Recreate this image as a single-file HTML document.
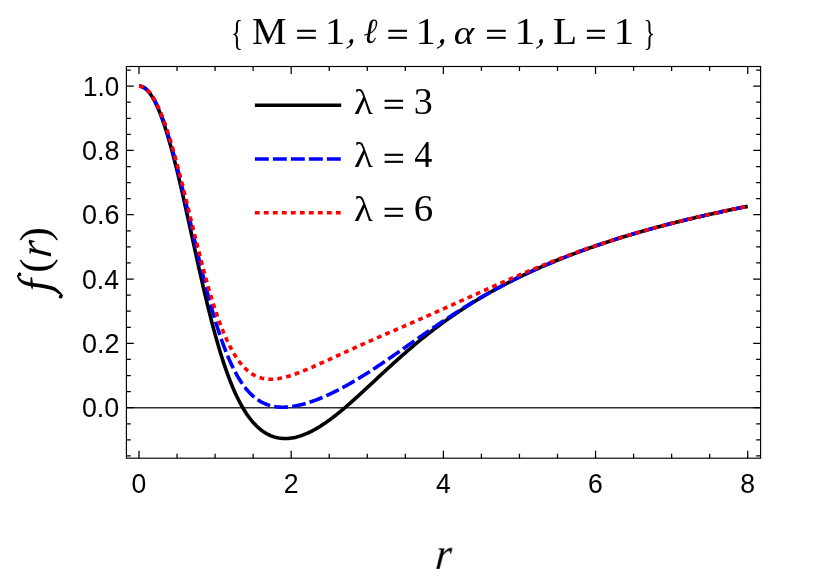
<!DOCTYPE html><html><head><meta charset="utf-8"><title>plot</title>
<style>html,body{margin:0;padding:0;background:#fff;}body{width:814px;height:585px;overflow:hidden;}svg{display:block;}.ss{font-family:"Liberation Sans",sans-serif;}.sr{font-family:"Liberation Serif",serif;}</style></head><body>
<svg width="814" height="585" viewBox="0 0 814 585" style="will-change:transform">
<defs><filter id="ga" filterUnits="userSpaceOnUse" x="0" y="0" width="814" height="585"><feOffset dx="0" dy="0"/></filter></defs>
<rect width="814" height="585" fill="#fff"/>
<line x1="126.40" y1="407.80" x2="760.60" y2="407.80" stroke="#2e2e2e" stroke-width="1.5"/>
<g fill="none" stroke-width="3.60" stroke-linejoin="round">
<path d="M139.00,86.10 L140.22,86.19 L141.43,86.47 L142.65,86.92 L143.87,87.56 L145.09,88.39 L146.30,89.39 L147.52,90.58 L148.74,91.95 L149.96,93.50 L151.17,95.23 L152.39,97.14 L153.61,99.23 L154.83,101.50 L156.04,103.94 L157.26,106.55 L158.48,109.34 L159.70,112.30 L160.91,115.42 L162.13,118.71 L163.35,122.15 L164.57,125.76 L165.78,129.51 L167.00,133.42 L168.22,137.47 L169.44,141.66 L170.65,145.98 L171.87,150.43 L173.09,155.01 L174.31,159.70 L175.52,164.50 L176.74,169.40 L177.96,174.40 L179.18,179.49 L180.39,184.66 L181.61,189.91 L182.83,195.22 L184.05,200.60 L185.26,206.02 L186.48,211.49 L187.70,216.99 L188.92,222.52 L190.13,228.06 L191.35,233.62 L192.57,239.19 L193.78,244.74 L195.00,250.29 L196.22,255.81 L197.44,261.31 L198.65,266.78 L199.87,272.20 L201.09,277.58 L202.31,282.91 L203.52,288.17 L204.74,293.37 L205.96,298.50 L207.18,303.56 L208.39,308.54 L209.61,313.43 L210.83,318.24 L212.05,322.95 L213.26,327.57 L214.48,332.10 L215.70,336.52 L216.92,340.84 L218.13,345.06 L219.35,349.17 L220.57,353.18 L221.79,357.08 L223.00,360.88 L224.22,364.56 L225.44,368.14 L226.66,371.60 L227.87,374.96 L229.09,378.22 L230.31,381.36 L231.53,384.40 L232.74,387.34 L233.96,390.17 L235.18,392.90 L236.40,395.53 L237.61,398.06 L238.83,400.50 L240.05,402.83 L241.26,405.07 L242.48,407.22 L243.70,409.28 L244.92,411.26 L246.13,413.14 L247.35,414.94 L248.57,416.66 L249.79,418.29 L251.00,419.85 L252.22,421.33 L253.44,422.74 L254.66,424.07 L255.87,425.33 L257.09,426.52 L258.31,427.65 L259.53,428.71 L260.74,429.70 L261.96,430.63 L263.18,431.51 L264.40,432.32 L265.61,433.07 L266.83,433.77 L268.05,434.42 L269.27,435.01 L270.48,435.55 L271.70,436.05 L272.92,436.49 L274.14,436.88 L275.35,437.23 L276.57,437.54 L277.79,437.80 L279.01,438.02 L280.22,438.19 L281.44,438.33 L282.66,438.43 L283.88,438.48 L285.09,438.50 L286.31,438.49 L287.53,438.44 L288.75,438.35 L289.96,438.23 L291.18,438.07 L292.40,437.89 L293.61,437.67 L294.83,437.42 L296.05,437.14 L297.27,436.83 L298.48,436.49 L299.70,436.13 L300.92,435.73 L302.14,435.31 L303.35,434.86 L304.57,434.39 L305.79,433.89 L307.01,433.37 L308.22,432.82 L309.44,432.26 L310.66,431.66 L311.88,431.05 L313.09,430.41 L314.31,429.75 L315.53,429.07 L316.75,428.37 L317.96,427.66 L319.18,426.92 L320.40,426.16 L321.62,425.39 L322.83,424.59 L324.05,423.78 L325.27,422.96 L326.49,422.11 L327.70,421.25 L328.92,420.38 L330.14,419.49 L331.36,418.59 L332.57,417.67 L333.79,416.74 L335.01,415.79 L336.23,414.84 L337.44,413.87 L338.66,412.89 L339.88,411.90 L341.10,410.90 L342.31,409.88 L343.53,408.86 L344.75,407.83 L345.96,406.79 L347.18,405.74 L348.40,404.68 L349.62,403.62 L350.83,402.55 L352.05,401.47 L353.27,400.39 L354.49,399.29 L355.70,398.20 L356.92,397.10 L358.14,395.99 L359.36,394.88 L360.57,393.76 L361.79,392.65 L363.01,391.52 L364.23,390.40 L365.44,389.27 L366.66,388.14 L367.88,387.01 L369.10,385.88 L370.31,384.74 L371.53,383.61 L372.75,382.47 L373.97,381.34 L375.18,380.20 L376.40,379.07 L377.62,377.93 L378.84,376.80 L380.05,375.66 L381.27,374.53 L382.49,373.40 L383.71,372.27 L384.92,371.15 L386.14,370.02 L387.36,368.90 L388.58,367.78 L389.79,366.67 L391.01,365.56 L392.23,364.45 L393.44,363.34 L394.66,362.24 L395.88,361.14 L397.10,360.05 L398.31,358.96 L399.53,357.87 L400.75,356.79 L401.97,355.72 L403.18,354.65 L404.40,353.58 L405.62,352.52 L406.84,351.46 L408.05,350.41 L409.27,349.36 L410.49,348.32 L411.71,347.29 L412.92,346.26 L414.14,345.23 L415.36,344.21 L416.58,343.20 L417.79,342.19 L419.01,341.19 L420.23,340.19 L421.45,339.20 L422.66,338.21 L423.88,337.23 L425.10,336.26 L426.32,335.29 L427.53,334.33 L428.75,333.37 L429.97,332.42 L431.19,331.48 L432.40,330.54 L433.62,329.61 L434.84,328.68 L436.06,327.76 L437.27,326.85 L438.49,325.94 L439.71,325.04 L440.93,324.14 L442.14,323.25 L443.36,322.36 L444.58,321.48 L445.79,320.61 L447.01,319.74 L448.23,318.88 L449.45,318.02 L450.66,317.17 L451.88,316.32 L453.10,315.48 L454.32,314.65 L455.53,313.82 L456.75,312.99 L457.97,312.18 L459.19,311.36 L460.40,310.56 L461.62,309.75 L462.84,308.96 L464.06,308.16 L465.27,307.38 L466.49,306.60 L467.71,305.82 L468.93,305.05 L470.14,304.28 L471.36,303.52 L472.58,302.76 L473.80,302.01 L475.01,301.27 L476.23,300.53 L477.45,299.79 L478.67,299.06 L479.88,298.33 L481.10,297.61 L482.32,296.89 L483.54,296.18 L484.75,295.47 L485.97,294.76 L487.19,294.06 L488.41,293.37 L489.62,292.68 L490.84,291.99 L492.06,291.31 L493.28,290.63 L494.49,289.96 L495.71,289.29 L496.93,288.62 L498.14,287.96 L499.36,287.31 L500.58,286.65 L501.80,286.00 L503.01,285.36 L504.23,284.72 L505.45,284.08 L506.67,283.45 L507.88,282.82 L509.10,282.20 L510.32,281.57 L511.54,280.96 L512.75,280.34 L513.97,279.73 L515.19,279.13 L516.41,278.52 L517.62,277.93 L518.84,277.33 L520.06,276.74 L521.28,276.15 L522.49,275.57 L523.71,274.98 L524.93,274.41 L526.15,273.83 L527.36,273.26 L528.58,272.69 L529.80,272.13 L531.02,271.57 L532.23,271.01 L533.45,270.46 L534.67,269.90 L535.89,269.36 L537.10,268.81 L538.32,268.27 L539.54,267.73 L540.76,267.19 L541.97,266.66 L543.19,266.13 L544.41,265.61 L545.62,265.08 L546.84,264.56 L548.06,264.04 L549.28,263.53 L550.49,263.02 L551.71,262.51 L552.93,262.00 L554.15,261.50 L555.36,261.00 L556.58,260.50 L557.80,260.01 L559.02,259.51 L560.23,259.02 L561.45,258.54 L562.67,258.05 L563.89,257.57 L565.10,257.09 L566.32,256.62 L567.54,256.14 L568.76,255.67 L569.97,255.20 L571.19,254.74 L572.41,254.27 L573.63,253.81 L574.84,253.35 L576.06,252.90 L577.28,252.44 L578.50,251.99 L579.71,251.54 L580.93,251.10 L582.15,250.65 L583.37,250.21 L584.58,249.77 L585.80,249.33 L587.02,248.90 L588.24,248.47 L589.45,248.04 L590.67,247.61 L591.89,247.18 L593.11,246.76 L594.32,246.34 L595.54,245.92 L596.76,245.50 L597.97,245.08 L599.19,244.67 L600.41,244.26 L601.63,243.85 L602.84,243.44 L604.06,243.04 L605.28,242.64 L606.50,242.24 L607.71,241.84 L608.93,241.44 L610.15,241.05 L611.37,240.65 L612.58,240.26 L613.80,239.87 L615.02,239.49 L616.24,239.10 L617.45,238.72 L618.67,238.34 L619.89,237.96 L621.11,237.58 L622.32,237.21 L623.54,236.83 L624.76,236.46 L625.98,236.09 L627.19,235.72 L628.41,235.35 L629.63,234.99 L630.85,234.63 L632.06,234.26 L633.28,233.90 L634.50,233.55 L635.72,233.19 L636.93,232.84 L638.15,232.48 L639.37,232.13 L640.59,231.78 L641.80,231.43 L643.02,231.09 L644.24,230.74 L645.46,230.40 L646.67,230.06 L647.89,229.72 L649.11,229.38 L650.32,229.04 L651.54,228.71 L652.76,228.38 L653.98,228.04 L655.19,227.71 L656.41,227.38 L657.63,227.06 L658.85,226.73 L660.06,226.41 L661.28,226.08 L662.50,225.76 L663.72,225.44 L664.93,225.12 L666.15,224.81 L667.37,224.49 L668.59,224.18 L669.80,223.86 L671.02,223.55 L672.24,223.24 L673.46,222.93 L674.67,222.62 L675.89,222.32 L677.11,222.01 L678.33,221.71 L679.54,221.41 L680.76,221.11 L681.98,220.81 L683.20,220.51 L684.41,220.21 L685.63,219.92 L686.85,219.62 L688.07,219.33 L689.28,219.04 L690.50,218.75 L691.72,218.46 L692.94,218.17 L694.15,217.89 L695.37,217.60 L696.59,217.32 L697.80,217.03 L699.02,216.75 L700.24,216.47 L701.46,216.19 L702.67,215.91 L703.89,215.64 L705.11,215.36 L706.33,215.08 L707.54,214.81 L708.76,214.54 L709.98,214.27 L711.20,214.00 L712.41,213.73 L713.63,213.46 L714.85,213.19 L716.07,212.93 L717.28,212.66 L718.50,212.40 L719.72,212.14 L720.94,211.88 L722.15,211.62 L723.37,211.36 L724.59,211.10 L725.81,210.84 L727.02,210.59 L728.24,210.33 L729.46,210.08 L730.68,209.82 L731.89,209.57 L733.11,209.32 L734.33,209.07 L735.55,208.82 L736.76,208.57 L737.98,208.33 L739.20,208.08 L740.42,207.84 L741.63,207.59 L742.85,207.35 L744.07,207.11 L745.29,206.87 L746.50,206.63 L747.72,206.39" stroke="#000"/>
<path d="M139.00,86.10 L140.22,86.19 L141.43,86.45 L142.65,86.89 L143.87,87.50 L145.09,88.29 L146.30,89.25 L147.52,90.38 L148.74,91.69 L149.96,93.18 L151.17,94.83 L152.39,96.66 L153.61,98.65 L154.83,100.82 L156.04,103.15 L157.26,105.65 L158.48,108.32 L159.70,111.14 L160.91,114.13 L162.13,117.27 L163.35,120.56 L164.57,124.00 L165.78,127.58 L167.00,131.31 L168.22,135.17 L169.44,139.17 L170.65,143.29 L171.87,147.53 L173.09,151.89 L174.31,156.36 L175.52,160.93 L176.74,165.60 L177.96,170.35 L179.18,175.19 L180.39,180.10 L181.61,185.08 L182.83,190.12 L184.05,195.21 L185.26,200.35 L186.48,205.53 L187.70,210.73 L188.92,215.95 L190.13,221.19 L191.35,226.43 L192.57,231.67 L193.78,236.90 L195.00,242.11 L196.22,247.29 L197.44,252.45 L198.65,257.56 L199.87,262.63 L201.09,267.65 L202.31,272.61 L203.52,277.51 L204.74,282.34 L205.96,287.09 L207.18,291.77 L208.39,296.36 L209.61,300.87 L210.83,305.29 L212.05,309.61 L213.26,313.83 L214.48,317.96 L215.70,321.98 L216.92,325.91 L218.13,329.72 L219.35,333.43 L220.57,337.04 L221.79,340.53 L223.00,343.92 L224.22,347.20 L225.44,350.37 L226.66,353.43 L227.87,356.39 L229.09,359.24 L230.31,361.98 L231.53,364.62 L232.74,367.16 L233.96,369.60 L235.18,371.93 L236.40,374.17 L237.61,376.32 L238.83,378.36 L240.05,380.32 L241.26,382.19 L242.48,383.97 L243.70,385.66 L244.92,387.27 L246.13,388.80 L247.35,390.25 L248.57,391.62 L249.79,392.92 L251.00,394.14 L252.22,395.30 L253.44,396.39 L254.66,397.41 L255.87,398.37 L257.09,399.26 L258.31,400.10 L259.53,400.88 L260.74,401.61 L261.96,402.28 L263.18,402.90 L264.40,403.47 L265.61,404.00 L266.83,404.47 L268.05,404.91 L269.27,405.30 L270.48,405.65 L271.70,405.96 L272.92,406.23 L274.14,406.47 L275.35,406.67 L276.57,406.84 L277.79,406.97 L279.01,407.08 L280.22,407.15 L281.44,407.20 L282.66,407.22 L283.88,407.21 L285.09,407.17 L286.31,407.11 L287.53,407.03 L288.75,406.93 L289.96,406.80 L291.18,406.65 L292.40,406.48 L293.61,406.29 L294.83,406.08 L296.05,405.86 L297.27,405.61 L298.48,405.35 L299.70,405.07 L300.92,404.78 L302.14,404.47 L303.35,404.15 L304.57,403.81 L305.79,403.46 L307.01,403.09 L308.22,402.71 L309.44,402.32 L310.66,401.91 L311.88,401.49 L313.09,401.07 L314.31,400.62 L315.53,400.17 L316.75,399.71 L317.96,399.23 L319.18,398.75 L320.40,398.25 L321.62,397.75 L322.83,397.24 L324.05,396.71 L325.27,396.18 L326.49,395.63 L327.70,395.08 L328.92,394.52 L330.14,393.95 L331.36,393.37 L332.57,392.79 L333.79,392.19 L335.01,391.59 L336.23,390.98 L337.44,390.36 L338.66,389.73 L339.88,389.10 L341.10,388.45 L342.31,387.80 L343.53,387.15 L344.75,386.48 L345.96,385.81 L347.18,385.14 L348.40,384.45 L349.62,383.76 L350.83,383.07 L352.05,382.36 L353.27,381.65 L354.49,380.94 L355.70,380.22 L356.92,379.49 L358.14,378.75 L359.36,378.02 L360.57,377.27 L361.79,376.52 L363.01,375.77 L364.23,375.01 L365.44,374.24 L366.66,373.47 L367.88,372.70 L369.10,371.92 L370.31,371.13 L371.53,370.34 L372.75,369.55 L373.97,368.75 L375.18,367.95 L376.40,367.15 L377.62,366.34 L378.84,365.53 L380.05,364.71 L381.27,363.90 L382.49,363.07 L383.71,362.25 L384.92,361.42 L386.14,360.59 L387.36,359.76 L388.58,358.92 L389.79,358.09 L391.01,357.25 L392.23,356.40 L393.44,355.56 L394.66,354.72 L395.88,353.87 L397.10,353.02 L398.31,352.17 L399.53,351.32 L400.75,350.47 L401.97,349.61 L403.18,348.76 L404.40,347.91 L405.62,347.05 L406.84,346.20 L408.05,345.34 L409.27,344.48 L410.49,343.63 L411.71,342.77 L412.92,341.92 L414.14,341.06 L415.36,340.21 L416.58,339.36 L417.79,338.50 L419.01,337.65 L420.23,336.80 L421.45,335.95 L422.66,335.10 L423.88,334.25 L425.10,333.41 L426.32,332.56 L427.53,331.72 L428.75,330.88 L429.97,330.04 L431.19,329.20 L432.40,328.37 L433.62,327.53 L434.84,326.70 L436.06,325.87 L437.27,325.05 L438.49,324.22 L439.71,323.40 L440.93,322.58 L442.14,321.77 L443.36,320.95 L444.58,320.14 L445.79,319.34 L447.01,318.53 L448.23,317.73 L449.45,316.93 L450.66,316.14 L451.88,315.34 L453.10,314.55 L454.32,313.77 L455.53,312.98 L456.75,312.21 L457.97,311.43 L459.19,310.66 L460.40,309.89 L461.62,309.12 L462.84,308.36 L464.06,307.60 L465.27,306.85 L466.49,306.09 L467.71,305.35 L468.93,304.60 L470.14,303.86 L471.36,303.13 L472.58,302.39 L473.80,301.66 L475.01,300.94 L476.23,300.22 L477.45,299.50 L478.67,298.78 L479.88,298.07 L481.10,297.37 L482.32,296.66 L483.54,295.96 L484.75,295.27 L485.97,294.58 L487.19,293.89 L488.41,293.21 L489.62,292.52 L490.84,291.85 L492.06,291.18 L493.28,290.51 L494.49,289.84 L495.71,289.18 L496.93,288.52 L498.14,287.87 L499.36,287.22 L500.58,286.57 L501.80,285.93 L503.01,285.29 L504.23,284.65 L505.45,284.02 L506.67,283.39 L507.88,282.77 L509.10,282.15 L510.32,281.53 L511.54,280.91 L512.75,280.30 L513.97,279.70 L515.19,279.09 L516.41,278.49 L517.62,277.90 L518.84,277.30 L520.06,276.71 L521.28,276.13 L522.49,275.54 L523.71,274.96 L524.93,274.39 L526.15,273.82 L527.36,273.25 L528.58,272.68 L529.80,272.12 L531.02,271.56 L532.23,271.00 L533.45,270.44 L534.67,269.89 L535.89,269.35 L537.10,268.80 L538.32,268.26 L539.54,267.72 L540.76,267.19 L541.97,266.66 L543.19,266.13 L544.41,265.60 L545.62,265.08 L546.84,264.56 L548.06,264.04 L549.28,263.53 L550.49,263.01 L551.71,262.51 L552.93,262.00 L554.15,261.50 L555.36,261.00 L556.58,260.50 L557.80,260.00 L559.02,259.51 L560.23,259.02 L561.45,258.54 L562.67,258.05 L563.89,257.57 L565.10,257.09 L566.32,256.62 L567.54,256.14 L568.76,255.67 L569.97,255.20 L571.19,254.74 L572.41,254.27 L573.63,253.81 L574.84,253.35 L576.06,252.90 L577.28,252.44 L578.50,251.99 L579.71,251.54 L580.93,251.10 L582.15,250.65 L583.37,250.21 L584.58,249.77 L585.80,249.33 L587.02,248.90 L588.24,248.47 L589.45,248.04 L590.67,247.61 L591.89,247.18 L593.11,246.76 L594.32,246.34 L595.54,245.92 L596.76,245.50 L597.97,245.08 L599.19,244.67 L600.41,244.26 L601.63,243.85 L602.84,243.44 L604.06,243.04 L605.28,242.64 L606.50,242.24 L607.71,241.84 L608.93,241.44 L610.15,241.05 L611.37,240.65 L612.58,240.26 L613.80,239.87 L615.02,239.49 L616.24,239.10 L617.45,238.72 L618.67,238.34 L619.89,237.96 L621.11,237.58 L622.32,237.21 L623.54,236.83 L624.76,236.46 L625.98,236.09 L627.19,235.72 L628.41,235.35 L629.63,234.99 L630.85,234.63 L632.06,234.26 L633.28,233.90 L634.50,233.55 L635.72,233.19 L636.93,232.84 L638.15,232.48 L639.37,232.13 L640.59,231.78 L641.80,231.43 L643.02,231.09 L644.24,230.74 L645.46,230.40 L646.67,230.06 L647.89,229.72 L649.11,229.38 L650.32,229.04 L651.54,228.71 L652.76,228.38 L653.98,228.04 L655.19,227.71 L656.41,227.38 L657.63,227.06 L658.85,226.73 L660.06,226.41 L661.28,226.08 L662.50,225.76 L663.72,225.44 L664.93,225.12 L666.15,224.81 L667.37,224.49 L668.59,224.18 L669.80,223.86 L671.02,223.55 L672.24,223.24 L673.46,222.93 L674.67,222.62 L675.89,222.32 L677.11,222.01 L678.33,221.71 L679.54,221.41 L680.76,221.11 L681.98,220.81 L683.20,220.51 L684.41,220.21 L685.63,219.92 L686.85,219.62 L688.07,219.33 L689.28,219.04 L690.50,218.75 L691.72,218.46 L692.94,218.17 L694.15,217.89 L695.37,217.60 L696.59,217.32 L697.80,217.03 L699.02,216.75 L700.24,216.47 L701.46,216.19 L702.67,215.91 L703.89,215.64 L705.11,215.36 L706.33,215.08 L707.54,214.81 L708.76,214.54 L709.98,214.27 L711.20,214.00 L712.41,213.73 L713.63,213.46 L714.85,213.19 L716.07,212.93 L717.28,212.66 L718.50,212.40 L719.72,212.14 L720.94,211.88 L722.15,211.62 L723.37,211.36 L724.59,211.10 L725.81,210.84 L727.02,210.59 L728.24,210.33 L729.46,210.08 L730.68,209.82 L731.89,209.57 L733.11,209.32 L734.33,209.07 L735.55,208.82 L736.76,208.57 L737.98,208.33 L739.20,208.08 L740.42,207.84 L741.63,207.59 L742.85,207.35 L744.07,207.11 L745.29,206.87 L746.50,206.63 L747.72,206.39" stroke="#0000ff" stroke-dasharray="13.9 4.1"/>
<path d="M139.00,86.10 L140.22,86.18 L141.43,86.44 L142.65,86.86 L143.87,87.45 L145.09,88.21 L146.30,89.14 L147.52,90.24 L148.74,91.51 L149.96,92.94 L151.17,94.54 L152.39,96.31 L153.61,98.24 L154.83,100.34 L156.04,102.59 L157.26,105.01 L158.48,107.59 L159.70,110.32 L160.91,113.20 L162.13,116.23 L163.35,119.42 L164.57,122.74 L165.78,126.20 L167.00,129.80 L168.22,133.53 L169.44,137.39 L170.65,141.37 L171.87,145.46 L173.09,149.66 L174.31,153.97 L175.52,158.37 L176.74,162.86 L177.96,167.44 L179.18,172.10 L180.39,176.82 L181.61,181.61 L182.83,186.45 L184.05,191.34 L185.26,196.27 L186.48,201.23 L187.70,206.21 L188.92,211.21 L190.13,216.21 L191.35,221.22 L192.57,226.22 L193.78,231.20 L195.00,236.17 L196.22,241.10 L197.44,245.99 L198.65,250.85 L199.87,255.65 L201.09,260.40 L202.31,265.08 L203.52,269.70 L204.74,274.24 L205.96,278.71 L207.18,283.09 L208.39,287.39 L209.61,291.59 L210.83,295.70 L212.05,299.72 L213.26,303.63 L214.48,307.44 L215.70,311.15 L216.92,314.75 L218.13,318.24 L219.35,321.62 L220.57,324.90 L221.79,328.06 L223.00,331.11 L224.22,334.05 L225.44,336.88 L226.66,339.60 L227.87,342.21 L229.09,344.71 L230.31,347.11 L231.53,349.40 L232.74,351.58 L233.96,353.66 L235.18,355.64 L236.40,357.53 L237.61,359.31 L238.83,361.00 L240.05,362.60 L241.26,364.11 L242.48,365.52 L243.70,366.86 L244.92,368.11 L246.13,369.27 L247.35,370.36 L248.57,371.37 L249.79,372.31 L251.00,373.18 L252.22,373.98 L253.44,374.71 L254.66,375.38 L255.87,375.98 L257.09,376.53 L258.31,377.01 L259.53,377.45 L260.74,377.83 L261.96,378.16 L263.18,378.43 L264.40,378.67 L265.61,378.86 L266.83,379.00 L268.05,379.10 L269.27,379.17 L270.48,379.20 L271.70,379.19 L272.92,379.15 L274.14,379.07 L275.35,378.97 L276.57,378.83 L277.79,378.67 L279.01,378.48 L280.22,378.27 L281.44,378.03 L282.66,377.77 L283.88,377.49 L285.09,377.19 L286.31,376.87 L287.53,376.53 L288.75,376.18 L289.96,375.81 L291.18,375.42 L292.40,375.02 L293.61,374.61 L294.83,374.18 L296.05,373.75 L297.27,373.30 L298.48,372.84 L299.70,372.37 L300.92,371.90 L302.14,371.41 L303.35,370.92 L304.57,370.42 L305.79,369.92 L307.01,369.41 L308.22,368.89 L309.44,368.37 L310.66,367.84 L311.88,367.31 L313.09,366.78 L314.31,366.24 L315.53,365.70 L316.75,365.15 L317.96,364.61 L319.18,364.06 L320.40,363.51 L321.62,362.96 L322.83,362.40 L324.05,361.85 L325.27,361.29 L326.49,360.73 L327.70,360.18 L328.92,359.62 L330.14,359.06 L331.36,358.50 L332.57,357.94 L333.79,357.39 L335.01,356.83 L336.23,356.27 L337.44,355.71 L338.66,355.15 L339.88,354.60 L341.10,354.04 L342.31,353.49 L343.53,352.93 L344.75,352.38 L345.96,351.82 L347.18,351.27 L348.40,350.72 L349.62,350.17 L350.83,349.62 L352.05,349.07 L353.27,348.52 L354.49,347.97 L355.70,347.43 L356.92,346.88 L358.14,346.34 L359.36,345.79 L360.57,345.25 L361.79,344.71 L363.01,344.16 L364.23,343.62 L365.44,343.08 L366.66,342.55 L367.88,342.01 L369.10,341.47 L370.31,340.93 L371.53,340.40 L372.75,339.86 L373.97,339.33 L375.18,338.79 L376.40,338.26 L377.62,337.72 L378.84,337.19 L380.05,336.66 L381.27,336.12 L382.49,335.59 L383.71,335.06 L384.92,334.53 L386.14,334.00 L387.36,333.47 L388.58,332.94 L389.79,332.41 L391.01,331.88 L392.23,331.35 L393.44,330.82 L394.66,330.28 L395.88,329.75 L397.10,329.22 L398.31,328.69 L399.53,328.16 L400.75,327.63 L401.97,327.10 L403.18,326.57 L404.40,326.04 L405.62,325.51 L406.84,324.98 L408.05,324.44 L409.27,323.91 L410.49,323.38 L411.71,322.85 L412.92,322.31 L414.14,321.78 L415.36,321.24 L416.58,320.71 L417.79,320.17 L419.01,319.64 L420.23,319.10 L421.45,318.57 L422.66,318.03 L423.88,317.49 L425.10,316.96 L426.32,316.42 L427.53,315.88 L428.75,315.34 L429.97,314.80 L431.19,314.26 L432.40,313.72 L433.62,313.18 L434.84,312.64 L436.06,312.10 L437.27,311.56 L438.49,311.01 L439.71,310.47 L440.93,309.93 L442.14,309.38 L443.36,308.84 L444.58,308.29 L445.79,307.75 L447.01,307.20 L448.23,306.66 L449.45,306.11 L450.66,305.57 L451.88,305.02 L453.10,304.47 L454.32,303.93 L455.53,303.38 L456.75,302.83 L457.97,302.28 L459.19,301.74 L460.40,301.19 L461.62,300.64 L462.84,300.09 L464.06,299.54 L465.27,299.00 L466.49,298.45 L467.71,297.90 L468.93,297.35 L470.14,296.80 L471.36,296.26 L472.58,295.71 L473.80,295.16 L475.01,294.61 L476.23,294.07 L477.45,293.52 L478.67,292.97 L479.88,292.43 L481.10,291.88 L482.32,291.34 L483.54,290.79 L484.75,290.25 L485.97,289.70 L487.19,289.16 L488.41,288.61 L489.62,288.07 L490.84,287.53 L492.06,286.99 L493.28,286.45 L494.49,285.91 L495.71,285.37 L496.93,284.83 L498.14,284.29 L499.36,283.75 L500.58,283.22 L501.80,282.68 L503.01,282.15 L504.23,281.62 L505.45,281.08 L506.67,280.55 L507.88,280.02 L509.10,279.49 L510.32,278.96 L511.54,278.44 L512.75,277.91 L513.97,277.38 L515.19,276.86 L516.41,276.34 L517.62,275.82 L518.84,275.30 L520.06,274.78 L521.28,274.26 L522.49,273.74 L523.71,273.23 L524.93,272.72 L526.15,272.20 L527.36,271.69 L528.58,271.18 L529.80,270.68 L531.02,270.17 L532.23,269.66 L533.45,269.16 L534.67,268.66 L535.89,268.16 L537.10,267.66 L538.32,267.16 L539.54,266.67 L540.76,266.17 L541.97,265.68 L543.19,265.19 L544.41,264.70 L545.62,264.21 L546.84,263.73 L548.06,263.24 L549.28,262.76 L550.49,262.28 L551.71,261.80 L552.93,261.33 L554.15,260.85 L555.36,260.38 L556.58,259.91 L557.80,259.44 L559.02,258.97 L560.23,258.50 L561.45,258.04 L562.67,257.58 L563.89,257.11 L565.10,256.66 L566.32,256.20 L567.54,255.74 L568.76,255.29 L569.97,254.84 L571.19,254.39 L572.41,253.94 L573.63,253.49 L574.84,253.05 L576.06,252.61 L577.28,252.17 L578.50,251.73 L579.71,251.29 L580.93,250.86 L582.15,250.42 L583.37,249.99 L584.58,249.56 L585.80,249.14 L587.02,248.71 L588.24,248.29 L589.45,247.86 L590.67,247.45 L591.89,247.03 L593.11,246.61 L594.32,246.20 L595.54,245.78 L596.76,245.37 L597.97,244.96 L599.19,244.56 L600.41,244.15 L601.63,243.75 L602.84,243.35 L604.06,242.95 L605.28,242.55 L606.50,242.15 L607.71,241.76 L608.93,241.37 L610.15,240.98 L611.37,240.59 L612.58,240.20 L613.80,239.81 L615.02,239.43 L616.24,239.05 L617.45,238.67 L618.67,238.29 L619.89,237.91 L621.11,237.54 L622.32,237.16 L623.54,236.79 L624.76,236.42 L625.98,236.05 L627.19,235.69 L628.41,235.32 L629.63,234.96 L630.85,234.60 L632.06,234.24 L633.28,233.88 L634.50,233.52 L635.72,233.17 L636.93,232.82 L638.15,232.46 L639.37,232.11 L640.59,231.77 L641.80,231.42 L643.02,231.07 L644.24,230.73 L645.46,230.39 L646.67,230.05 L647.89,229.71 L649.11,229.37 L650.32,229.03 L651.54,228.70 L652.76,228.37 L653.98,228.04 L655.19,227.71 L656.41,227.38 L657.63,227.05 L658.85,226.72 L660.06,226.40 L661.28,226.08 L662.50,225.76 L663.72,225.44 L664.93,225.12 L666.15,224.80 L667.37,224.49 L668.59,224.17 L669.80,223.86 L671.02,223.55 L672.24,223.24 L673.46,222.93 L674.67,222.62 L675.89,222.32 L677.11,222.01 L678.33,221.71 L679.54,221.41 L680.76,221.11 L681.98,220.81 L683.20,220.51 L684.41,220.21 L685.63,219.92 L686.85,219.62 L688.07,219.33 L689.28,219.04 L690.50,218.75 L691.72,218.46 L692.94,218.17 L694.15,217.88 L695.37,217.60 L696.59,217.31 L697.80,217.03 L699.02,216.75 L700.24,216.47 L701.46,216.19 L702.67,215.91 L703.89,215.63 L705.11,215.36 L706.33,215.08 L707.54,214.81 L708.76,214.54 L709.98,214.27 L711.20,214.00 L712.41,213.73 L713.63,213.46 L714.85,213.19 L716.07,212.93 L717.28,212.66 L718.50,212.40 L719.72,212.14 L720.94,211.88 L722.15,211.62 L723.37,211.36 L724.59,211.10 L725.81,210.84 L727.02,210.59 L728.24,210.33 L729.46,210.08 L730.68,209.82 L731.89,209.57 L733.11,209.32 L734.33,209.07 L735.55,208.82 L736.76,208.57 L737.98,208.33 L739.20,208.08 L740.42,207.84 L741.63,207.59 L742.85,207.35 L744.07,207.11 L745.29,206.87 L746.50,206.63 L747.72,206.39" stroke="#ff0000" stroke-dasharray="4.8 4.2"/>
</g>
<g fill="none" stroke-width="3.60">
<path d="M254.9,105.3 H341.2" stroke="#000"/>
<path d="M254.9,159.0 H341.2" stroke="#0000ff" stroke-dasharray="13.9 4.1"/>
<path d="M254.9,212.8 H341.2" stroke="#ff0000" stroke-dasharray="4.8 4.2"/>
</g>
<path d="M139.00,458.20 v-7.40 M139.00,66.50 v7.40 M177.05,458.20 v-4.40 M177.05,66.50 v4.40 M215.09,458.20 v-4.40 M215.09,66.50 v4.40 M253.13,458.20 v-4.40 M253.13,66.50 v4.40 M291.18,458.20 v-7.40 M291.18,66.50 v7.40 M329.23,458.20 v-4.40 M329.23,66.50 v4.40 M367.27,458.20 v-4.40 M367.27,66.50 v4.40 M405.31,458.20 v-4.40 M405.31,66.50 v4.40 M443.36,458.20 v-7.40 M443.36,66.50 v7.40 M481.41,458.20 v-4.40 M481.41,66.50 v4.40 M519.45,458.20 v-4.40 M519.45,66.50 v4.40 M557.50,458.20 v-4.40 M557.50,66.50 v4.40 M595.54,458.20 v-7.40 M595.54,66.50 v7.40 M633.59,458.20 v-4.40 M633.59,66.50 v4.40 M671.63,458.20 v-4.40 M671.63,66.50 v4.40 M709.68,458.20 v-4.40 M709.68,66.50 v4.40 M747.72,458.20 v-7.40 M747.72,66.50 v7.40 M126.40,455.94 h4.40 M760.60,455.94 h-4.40 M126.40,439.86 h4.40 M760.60,439.86 h-4.40 M126.40,423.78 h4.40 M760.60,423.78 h-4.40 M126.40,407.70 h7.40 M760.60,407.70 h-7.40 M126.40,391.62 h4.40 M760.60,391.62 h-4.40 M126.40,375.54 h4.40 M760.60,375.54 h-4.40 M126.40,359.46 h4.40 M760.60,359.46 h-4.40 M126.40,343.38 h7.40 M760.60,343.38 h-7.40 M126.40,327.30 h4.40 M760.60,327.30 h-4.40 M126.40,311.22 h4.40 M760.60,311.22 h-4.40 M126.40,295.14 h4.40 M760.60,295.14 h-4.40 M126.40,279.06 h7.40 M760.60,279.06 h-7.40 M126.40,262.98 h4.40 M760.60,262.98 h-4.40 M126.40,246.90 h4.40 M760.60,246.90 h-4.40 M126.40,230.82 h4.40 M760.60,230.82 h-4.40 M126.40,214.74 h7.40 M760.60,214.74 h-7.40 M126.40,198.66 h4.40 M760.60,198.66 h-4.40 M126.40,182.58 h4.40 M760.60,182.58 h-4.40 M126.40,166.50 h4.40 M760.60,166.50 h-4.40 M126.40,150.42 h7.40 M760.60,150.42 h-7.40 M126.40,134.34 h4.40 M760.60,134.34 h-4.40 M126.40,118.26 h4.40 M760.60,118.26 h-4.40 M126.40,102.18 h4.40 M760.60,102.18 h-4.40 M126.40,86.10 h7.40 M760.60,86.10 h-7.40 M126.40,70.02 h4.40 M760.60,70.02 h-4.40" stroke="#000" stroke-width="1.25" fill="none"/>
<rect x="126.40" y="66.50" width="634.20" height="391.70" fill="none" stroke="#000" stroke-width="1.15"/>
<g filter="url(#ga)" fill="#000">
<text text-anchor="middle" font-family="'Liberation Serif', serif" font-size="38"  transform="translate(237.15,44.74) scale(0.661,0.962) ">{</text>
<text text-anchor="middle" font-family="'Liberation Serif', serif" font-size="38"  transform="translate(269.35,43.65) scale(1.022,1.000) ">M</text>
<text text-anchor="middle" font-family="'Liberation Serif', serif" font-size="38" stroke="#000" stroke-width="0.5" transform="translate(306.57,46.15) scale(1.025,0.890) ">=</text>
<text text-anchor="middle" font-family="'Liberation Serif', serif" font-size="38"  transform="translate(335.17,43.65) scale(1.059,0.982) ">1</text>
<text text-anchor="middle" font-family="'Liberation Serif', serif" font-size="38" font-style="italic"  transform="translate(350.78,42.77) scale(0.862,1.005) skewX(-18)">,</text>
<text text-anchor="middle" font-family="'Liberation Serif', serif" font-size="38" font-style="italic"  transform="translate(370.28,43.42) scale(0.887,0.933) ">ℓ</text>
<text text-anchor="middle" font-family="'Liberation Serif', serif" font-size="38" stroke="#000" stroke-width="0.5" transform="translate(397.62,46.15) scale(1.019,0.890) ">=</text>
<text text-anchor="middle" font-family="'Liberation Serif', serif" font-size="38"  transform="translate(425.72,43.65) scale(1.052,0.982) ">1</text>
<text text-anchor="middle" font-family="'Liberation Serif', serif" font-size="38" font-style="italic"  transform="translate(441.61,42.77) scale(0.925,1.005) skewX(-18)">,</text>
<text text-anchor="middle" font-family="'Liberation Serif', serif" font-size="38" font-style="italic"  transform="translate(463.90,43.63) scale(1.023,0.886) ">α</text>
<text text-anchor="middle" font-family="'Liberation Serif', serif" font-size="38" stroke="#000" stroke-width="0.5" transform="translate(496.32,46.15) scale(1.030,0.890) ">=</text>
<text text-anchor="middle" font-family="'Liberation Serif', serif" font-size="38"  transform="translate(524.90,43.65) scale(1.096,0.982) ">1</text>
<text text-anchor="middle" font-family="'Liberation Serif', serif" font-size="38" font-style="italic"  transform="translate(540.51,42.77) scale(0.850,1.005) skewX(-18)">,</text>
<text text-anchor="middle" font-family="'Liberation Serif', serif" font-size="38"  transform="translate(565.15,43.65) scale(1.038,1.000) ">L</text>
<text text-anchor="middle" font-family="'Liberation Serif', serif" font-size="38" stroke="#000" stroke-width="0.5" transform="translate(595.98,46.15) scale(0.992,0.890) ">=</text>
<text text-anchor="middle" font-family="'Liberation Serif', serif" font-size="38"  transform="translate(623.86,43.65) scale(1.074,0.982) ">1</text>
<text text-anchor="middle" font-family="'Liberation Serif', serif" font-size="38"  transform="translate(649.35,44.74) scale(0.643,0.962) ">}</text>
<text text-anchor="middle" font-family="'Liberation Serif', serif" font-size="38"  transform="translate(363.52,113.55) scale(1.026,0.923) ">λ</text>
<text text-anchor="middle" font-family="'Liberation Serif', serif" font-size="38" stroke="#000" stroke-width="0.5" transform="translate(393.77,115.92) scale(1.014,0.900) ">=</text>
<text text-anchor="middle" font-family="'Liberation Serif', serif" font-size="38"  transform="translate(423.32,113.60) scale(1.003,0.994) ">3</text>
<text text-anchor="middle" font-family="'Liberation Serif', serif" font-size="38"  transform="translate(363.52,167.40) scale(1.026,0.923) ">λ</text>
<text text-anchor="middle" font-family="'Liberation Serif', serif" font-size="38" stroke="#000" stroke-width="0.5" transform="translate(393.77,169.78) scale(1.014,0.900) ">=</text>
<text text-anchor="middle" font-family="'Liberation Serif', serif" font-size="38"  transform="translate(423.38,167.40) scale(0.952,0.996) ">4</text>
<text text-anchor="middle" font-family="'Liberation Serif', serif" font-size="38"  transform="translate(363.52,221.25) scale(1.026,0.923) ">λ</text>
<text text-anchor="middle" font-family="'Liberation Serif', serif" font-size="38" stroke="#000" stroke-width="0.5" transform="translate(393.77,223.62) scale(1.014,0.900) ">=</text>
<text text-anchor="middle" font-family="'Liberation Serif', serif" font-size="38"  transform="translate(423.49,221.30) scale(1.025,0.998) ">6</text>
<text text-anchor="middle" font-family="'Liberation Sans', sans-serif" font-size="26.6"  transform="translate(100.60,417.29) scale(1.009,1.035) ">0.0</text>
<text text-anchor="middle" font-family="'Liberation Sans', sans-serif" font-size="26.6"  transform="translate(100.73,352.97) scale(1.016,1.035) ">0.2</text>
<text text-anchor="middle" font-family="'Liberation Sans', sans-serif" font-size="26.6"  transform="translate(100.47,288.65) scale(1.001,1.035) ">0.4</text>
<text text-anchor="middle" font-family="'Liberation Sans', sans-serif" font-size="26.6"  transform="translate(100.73,224.33) scale(1.016,1.035) ">0.6</text>
<text text-anchor="middle" font-family="'Liberation Sans', sans-serif" font-size="26.6"  transform="translate(100.73,160.01) scale(1.016,1.035) ">0.8</text>
<text text-anchor="middle" font-family="'Liberation Sans', sans-serif" font-size="26.6"  transform="translate(101.11,95.69) scale(0.979,1.035) ">1.0</text>
<text text-anchor="middle" font-family="'Liberation Sans', sans-serif" font-size="26.6"  transform="translate(139.00,492.69) scale(1.000,1.040) ">0</text>
<text text-anchor="middle" font-family="'Liberation Sans', sans-serif" font-size="26.6"  transform="translate(291.18,492.65) scale(1.000,1.038) ">2</text>
<text text-anchor="middle" font-family="'Liberation Sans', sans-serif" font-size="26.6"  transform="translate(443.36,492.91) scale(1.000,1.039) ">4</text>
<text text-anchor="middle" font-family="'Liberation Sans', sans-serif" font-size="26.6"  transform="translate(595.41,492.69) scale(1.000,1.040) ">6</text>
<text text-anchor="middle" font-family="'Liberation Sans', sans-serif" font-size="26.6"  transform="translate(747.72,492.69) scale(1.000,1.040) ">8</text>
<text text-anchor="middle" font-family="'Liberation Serif', serif" font-size="47" font-style="italic"  transform="translate(442.70,568.85) scale(0.876,0.973) skewX(-5.4)">r</text>
<g font-family="'Liberation Serif', serif" font-style="italic" text-anchor="middle" transform="translate(51,0) rotate(-90)">
<text transform="translate(-265.5,-2.3) " font-size="43" font-style="normal">(</text>
<text transform="translate(-250.0,0.0) skewX(-5.4) scale(0.9,1)" font-size="47">r</text>
<text transform="translate(-234.3,-2.3) " font-size="43" font-style="normal">)</text>
<g transform="translate(-298.5,0)" fill="#000"><path d="M2.12,11.94 L3.20,11.74 L4.16,11.31 L5.00,10.72 L5.73,10.06 L6.39,9.38 L7.01,8.74 L7.64,8.11 L8.28,7.47 L8.92,6.80 L9.56,6.10 L10.16,5.34 L10.73,4.52 L11.22,3.63 L11.64,2.73 L11.99,1.80 L12.28,0.88 L12.53,-0.05 L12.75,-0.96 L12.95,-1.86 L13.14,-2.74 L13.33,-3.62 L13.52,-4.49 L13.70,-5.37 L13.88,-6.25 L14.05,-7.14 L14.22,-8.03 L14.37,-8.92 L14.51,-9.81 L14.64,-10.71 L14.76,-11.61 L14.88,-12.50 L14.99,-13.39 L15.09,-14.28 L15.19,-15.16 L15.30,-16.04 L15.41,-16.92 L15.53,-17.79 L15.65,-18.65 L15.79,-19.51 L15.94,-20.36 L16.10,-21.20 L16.27,-22.03 L16.45,-22.86 L16.65,-23.68 L16.86,-24.49 L17.08,-25.29 L17.31,-26.09 L17.57,-26.86 L17.85,-27.60 L18.18,-28.32 L18.57,-29.00 L19.01,-29.65 L19.52,-30.27 L20.08,-30.83 L20.70,-31.33 L21.36,-31.75 L22.07,-32.10 L22.83,-32.35 L23.62,-32.50 L23.58,-33.90 L22.57,-33.86 L21.58,-33.70 L20.62,-33.42 L19.70,-33.04 L18.82,-32.55 L17.99,-31.98 L17.21,-31.33 L16.49,-30.61 L15.84,-29.84 L15.26,-29.02 L14.74,-28.17 L14.29,-27.30 L13.90,-26.41 L13.56,-25.53 L13.26,-24.63 L12.99,-23.73 L12.77,-22.82 L12.57,-21.91 L12.39,-21.00 L12.24,-20.10 L12.09,-19.19 L11.96,-18.29 L11.83,-17.39 L11.71,-16.50 L11.59,-15.61 L11.48,-14.73 L11.36,-13.85 L11.24,-12.98 L11.12,-12.11 L10.99,-11.25 L10.86,-10.39 L10.71,-9.54 L10.56,-8.69 L10.40,-7.84 L10.23,-6.98 L10.06,-6.12 L9.88,-5.25 L9.70,-4.38 L9.52,-3.50 L9.34,-2.62 L9.16,-1.75 L8.97,-0.90 L8.78,-0.08 L8.57,0.71 L8.33,1.47 L8.07,2.18 L7.77,2.86 L7.42,3.53 L7.02,4.21 L6.56,4.90 L6.07,5.62 L5.55,6.36 L5.02,7.12 L4.51,7.90 L4.03,8.64 L3.57,9.29 L3.09,9.85 L2.55,10.31 L1.88,10.66Z"/><path d="M-0.05,9.70 a1.85,1.85 0 1,0 3.70,0 a1.85,1.85 0 1,0 -3.70,0Z"/><path d="M22.35,-31.50 a1.85,1.85 0 1,0 3.70,0 a1.85,1.85 0 1,0 -3.70,0Z"/><path d="M8.4,-18.7 L13,-20.5 L20.8,-20.4 L21.6,-19.0 L13,-17.7 Z"/></g>
</g>
</g>
</svg></body></html>
